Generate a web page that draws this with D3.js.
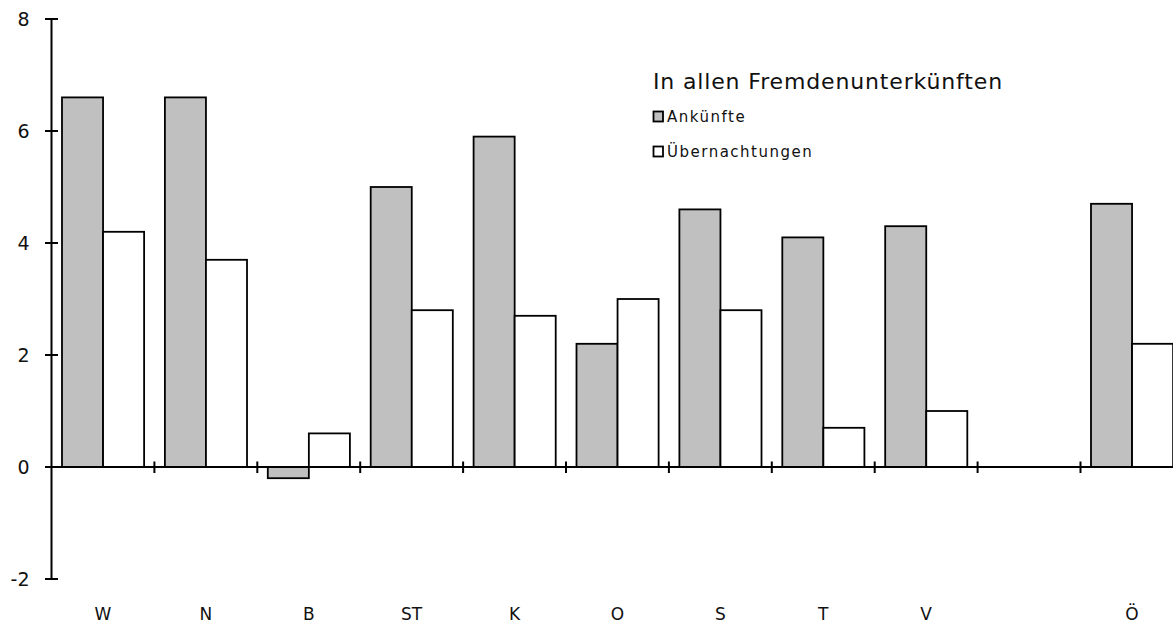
<!DOCTYPE html>
<html>
<head>
<meta charset="utf-8">
<script src="https://cdn.jsdelivr.net/npm/d3@7"></script>
<style>
  html, body { margin: 0; padding: 0; background: #fff; }
  svg { display: block; }
  text { font-family: "DejaVu Sans", "Noto Sans", sans-serif; fill: #111; }
</style>
</head>
<body>
<svg id="chart" width="1173" height="625"></svg>
<script>
// Bundesländer (the 10th slot is an intentional gap before Österreich)
const categories = ["W", "N", "B", "ST", "K", "O", "S", "T", "V", "", "Ö"];
// Change in percent
const ankuenfte = [6.6, 6.6, -0.2, 5.0, 5.9, 2.2, 4.6, 4.1, 4.3, null, 4.7];
const uebernachtungen = [4.2, 3.7, 0.6, 2.8, 2.7, 3.0, 2.8, 0.7, 1.0, null, 2.2];
const seriesNames = ["Ankünfte", "Übernachtungen"];
const seriesFills = ["#c0c0c0", "#ffffff"];
const yTicks = [-2, 0, 2, 4, 6, 8];
const legendTitle = "In allen Fremdenunterkünften";

const svg = d3.select("#chart");

const x0 = d3.scaleBand()
  .domain(categories.map((c, i) => i))
  .range([51.5, 51.5 + 11 * 102.9])
  .padding(0);

const bw = x0.bandwidth();
const x1 = d3.scaleBand()
  .domain(seriesNames)
  .range([bw * 0.102, bw * 0.9])
  .padding(0);

const y = d3.scaleLinear().domain([-2, 8]).range([579, 19]);

const seriesValues = [ankuenfte, uebernachtungen];

// Bars
seriesNames.forEach((name, si) => {
  svg.append("g")
    .selectAll("rect")
    .data(seriesValues[si].map((v, i) => ({ i, v })).filter(d => d.v !== null))
    .join("rect")
    .attr("x", d => x0(d.i) + x1(name))
    .attr("width", x1.bandwidth())
    .attr("y", d => y(Math.max(0, d.v)))
    .attr("height", d => Math.abs(y(d.v) - y(0)))
    .attr("fill", seriesFills[si])
    .attr("stroke", "#000")
    .attr("stroke-width", 1.8);
});

// Y axis
const yAxis = svg.append("g").attr("transform", `translate(${x0.range()[0]},0)`);
yAxis.append("line")
  .attr("x1", 0).attr("x2", 0)
  .attr("y1", y(8)).attr("y2", y(-2))
  .attr("stroke", "#000").attr("stroke-width", 2);
yAxis.selectAll("line.tick")
  .data(yTicks)
  .join("line")
  .attr("class", "tick")
  .attr("x1", -6.5).attr("x2", 6.5)
  .attr("y1", d => y(d)).attr("y2", d => y(d))
  .attr("stroke", "#000").attr("stroke-width", 2);
yAxis.selectAll("text")
  .data(yTicks)
  .join("text")
  .attr("x", -22)
  .attr("y", d => y(d))
  .attr("dy", "0.36em")
  .attr("text-anchor", "end")
  .style("font-size", "19px")
  .text(d => d);

// X axis at zero
const xAxis = svg.append("g");
xAxis.append("line")
  .attr("x1", x0.range()[0]).attr("x2", x0.range()[1])
  .attr("y1", y(0)).attr("y2", y(0))
  .attr("stroke", "#000").attr("stroke-width", 2);
xAxis.selectAll("line.tick")
  .data(categories.map((c, i) => i).slice(1))
  .join("line")
  .attr("class", "tick")
  .attr("x1", d => x0(d)).attr("x2", d => x0(d))
  .attr("y1", y(0) - 5.5).attr("y2", y(0) + 6)
  .attr("stroke", "#000").attr("stroke-width", 2);
xAxis.selectAll("text")
  .data(categories)
  .join("text")
  .attr("x", (d, i) => x0(i) + bw / 2)
  .attr("y", 620)
  .attr("text-anchor", "middle")
  .style("font-size", "17px")
  .text(d => d);

// Legend
const legend = svg.append("g").attr("transform", "translate(653,0)");
legend.append("text")
  .attr("x", 0).attr("y", 89)
  .style("font-size", "22px")
  .style("letter-spacing", "0.85px")
  .text(legendTitle);
const legendRows = [116.5, 151.5];
seriesNames.forEach((name, si) => {
  legend.append("rect")
    .attr("x", 0.5).attr("y", legendRows[si] - 5)
    .attr("width", 9.5).attr("height", 10)
    .attr("fill", seriesFills[si])
    .attr("stroke", "#000").attr("stroke-width", 1.8);
  legend.append("text")
    .attr("x", 14).attr("y", legendRows[si])
    .attr("dy", "0.36em")
    .style("font-size", "15px")
    .style("letter-spacing", "1.5px")
    .text(name);
});
</script>
</body>
</html>
